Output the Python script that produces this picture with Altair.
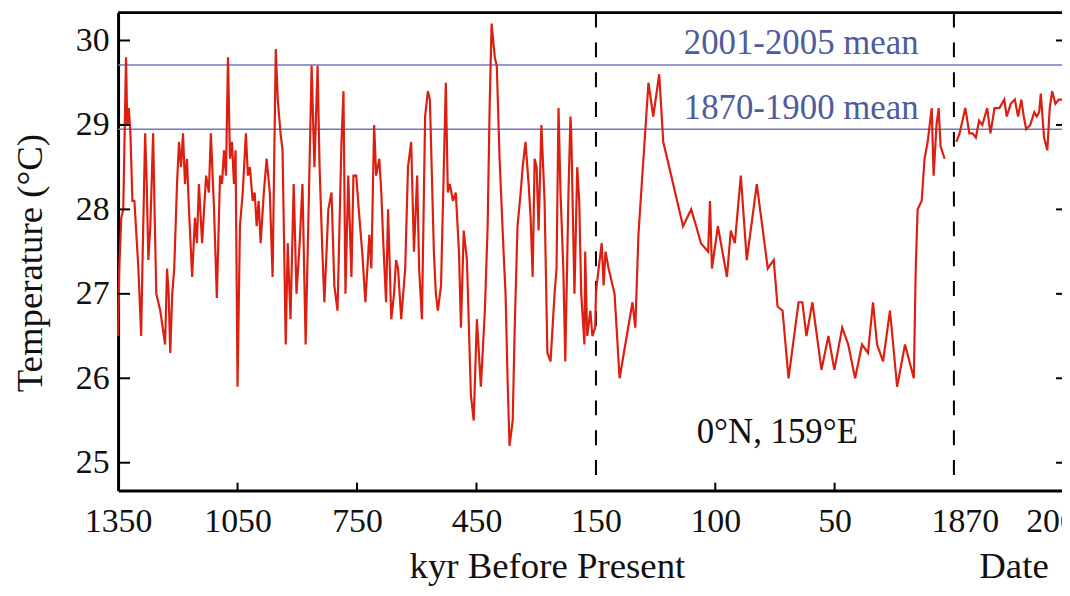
import altair as alt
import pandas as pd

# ---------------- data ----------------
# 1350-150 kyr panel
kyr_old = [1350, 1347, 1342, 1337, 1330, 1327, 1323, 1319, 1314, 1309,
           1304, 1299, 1292, 1289, 1282, 1278, 1274, 1269, 1262, 1258,
           1254, 1244, 1232, 1227, 1223, 1219, 1214, 1209, 1202, 1197,
           1192, 1187, 1182, 1177, 1172, 1164, 1157, 1152, 1147, 1139,
           1134, 1129, 1122, 1117, 1109, 1102, 1094, 1089, 1084, 1079,
           1074, 1069, 1064, 1059, 1055, 1050, 1044, 1037, 1029, 1024,
           1019, 1012, 1007, 1002, 997, 992, 984, 977, 969, 962,
           954, 949, 942, 937, 929, 924, 917, 909, 902, 894,
           887, 879, 872, 864, 857, 849, 844, 837, 832, 822,
           814, 807, 799, 789, 784, 779, 772, 764, 759, 752,
           744, 737, 729, 719, 714, 707, 702, 694, 689, 684,
           677, 672, 664, 657, 652, 647, 639, 629, 622, 614,
           607, 599, 594, 587, 579, 572, 567, 562, 557, 552,
           547, 539, 532, 527, 522, 517, 509, 502, 494, 489,
           482, 474, 469, 464, 457, 449, 439, 429, 422, 417,
           412, 404, 399, 392, 382, 377, 372, 367, 359, 354,
           347, 339, 334, 327, 319, 314, 309, 304, 299, 294,
           287, 279, 272, 264, 254, 249, 244, 239, 232, 227,
           219, 214, 212, 204, 197, 192, 187, 179, 177, 172,
           164, 159, 152, 150]
temp_old = [26.5, 27.3, 27.9, 28.0, 29.8, 29.0, 29.2, 28.9, 28.1, 28.1,
            27.7, 27.3, 26.5, 27.3, 28.9, 28.3, 27.4, 27.8, 28.9, 27.9,
            27.0, 26.8, 26.4, 27.3, 27.0, 26.3, 27.0, 27.3, 28.3, 28.8,
            28.5, 28.9, 28.3, 28.6, 28.0, 27.2, 27.9, 27.6, 28.3, 27.6,
            28.0, 28.4, 28.2, 28.9, 28.0, 26.95, 28.4, 28.3, 28.7, 28.4,
            29.8, 28.6, 28.8, 28.3, 28.7, 25.9, 27.8, 28.2, 28.9, 28.4,
            28.5, 28.1, 28.2, 27.8, 28.1, 27.6, 28.2, 28.6, 28.2, 27.2,
            29.9, 29.3, 28.9, 28.7, 26.4, 27.6, 26.7, 28.3, 27.0, 27.6,
            28.3, 26.4, 27.9, 29.7, 28.5, 29.7, 28.5, 27.5, 26.9, 28.0,
            28.2, 27.1, 26.8, 28.8, 29.4, 27.0, 28.4, 27.2, 28.4, 28.4,
            27.9, 27.5, 26.9, 27.7, 27.3, 29.0, 28.4, 28.6, 28.2, 27.6,
            26.9, 28.0, 26.7, 27.0, 27.4, 27.3, 26.7, 27.3, 28.5, 28.8,
            27.5, 28.4, 27.3, 26.7, 29.1, 29.4, 29.3, 28.4, 27.5, 27.0,
            26.8, 27.1, 28.5, 29.5, 28.2, 28.3, 28.1, 28.2, 27.5, 26.6,
            27.75, 27.4, 26.6, 25.8, 25.5, 26.7, 25.9, 26.8, 27.8, 29.2,
            30.2, 29.8, 29.7, 28.6, 27.5, 27.0, 26.0, 25.2, 25.5, 26.6,
            27.8, 28.2, 28.5, 28.8, 28.3, 27.9, 27.2, 28.6, 28.5, 27.75,
            29.0, 28.1, 26.3, 26.2, 27.0, 27.3, 29.2, 28.2, 27.3, 26.2,
            28.2, 29.1, 28.9, 27.0, 28.5, 28.1, 27.0, 26.4, 27.5, 26.5,
            26.8, 26.5, 26.6, 27.0]

# 150-0 kyr panel
kyr_mid = [149.7, 147.6, 146.8, 146.0, 144.7, 142.2, 140.1, 134.7, 133.5, 132.2,
           128.0, 126.0, 123.5, 121.8, 113.5, 110.1, 108.0, 106.0, 103.0, 102.2,
           101.4, 98.9, 95.1, 93.5, 91.8, 89.3, 86.8, 82.6, 78.0, 76.8,
           75.5, 73.9, 71.8, 69.3, 65.1, 63.5, 61.8, 59.3, 55.5, 52.6,
           50.1, 46.8, 44.3, 41.4, 38.5, 36.0, 33.9, 32.2, 29.7, 26.8,
           23.8, 20.5, 16.8, 16.0, 15.2, 13.5, 12.3, 11.0, 9.3, 8.5,
           7.3, 6.4, 5.6, 3.9]
temp_mid = [27.1, 27.6, 27.1, 27.5, 27.3, 27.0, 26.0, 26.9, 26.6, 27.7,
            29.5, 29.1, 29.6, 28.8, 27.8, 28.0, 27.8, 27.6, 27.5, 28.1,
            27.3, 27.8, 27.2, 27.75, 27.6, 28.4, 27.4, 28.3, 27.3, 27.35,
            27.4, 26.85, 26.8, 26.0, 26.9, 26.9, 26.5, 26.9, 26.1, 26.5,
            26.1, 26.6, 26.4, 26.0, 26.4, 26.3, 26.9, 26.4, 26.2, 26.8,
            25.9, 26.4, 26.0, 27.3, 28.0, 28.1, 28.6, 28.8, 29.2, 28.4,
            29.0, 29.2, 28.75, 28.6]

# instrumental panel (dates)
year_new = [1873, 1877, 1884, 1889, 1893, 1897, 1901, 1905, 1908, 1911,
            1915, 1920, 1926, 1932, 1935, 1940, 1945, 1949, 1953, 1956,
            1959, 1964, 1969, 1972, 1975, 1977, 1981, 1985, 1988, 1991,
            1995, 1999, 2003, 2006]
temp_new = [28.8, 28.9, 29.2, 28.9, 28.9, 28.85, 29.05, 29.0, 29.1, 29.2,
            28.9, 29.2, 29.2, 29.3, 29.1, 29.25, 29.3, 29.1, 29.3, 29.1,
            28.95, 29.0, 29.15, 29.1, 29.15, 29.37, 28.85, 28.7, 29.2, 29.4,
            29.25, 29.3, 29.3, 29.3]

mean_names = ["2001-2005 mean", "1870-1900 mean"]
mean_temps = [29.71, 28.95]
mean_label_temps = [29.97, 29.2]
mean_label_kyr = [64, 64]

site_names = ["0°N, 159°E"]
site_kyr = [74]
site_temps = [25.36]

date_title = ["Date"]
date_title_year = [1944]

# axis positions: kyr values; values <= 0 are dates (0 -> 1870, -130 -> 2000)
x_label_values = [1350, 1050, 750, 450, 150, 100, 50, 0, -130]
x_tick_marks = [1050, 750, 450, 100, 50]
y_tick_values = [25, 26, 27, 28, 29, 30]
panel_breaks = [150, 0]

# ---------------- chart ----------------
W = 949.3          # visible plot width (the frame continues past the page edge)
FRAME = 953.3      # position of the right-hand frame
H = 480.7
FONT = "Liberation Serif"
RED = "#dc1f10"
BLUE_LINE = "#7078bd"
BLUE_TEXT = "#4f5c9c"
TITLE_Y = 87.5

xscale = alt.Scale(domain=[1350, 150, 0, -138], range=[0, 480.6, 840.6, FRAME],
                   nice=False, zero=False)
yscale = alt.Scale(domain=[24.67, 30.33], nice=False, zero=False)

paleo = pd.DataFrame({"pos": kyr_old + kyr_mid, "temp": temp_old + temp_mid})
modern = pd.DataFrame({"year": year_new, "temp": temp_new})

x_axis = alt.Axis(
    values=x_label_values,
    labelExpr="datum.value <= 0 ? toString(1870 - datum.value) : toString(datum.value)",
    labelOffset={"condition": {"test": "datum.value == 0", "value": 11}, "value": 0},
    labelFlush=False, labelOverlap=False, labelBound=False,
    labelPadding=14, labelFontSize=34,
    ticks=False, grid=False, domainWidth=3, domainColor="black",
    title="kyr Before Present", titleX=431.3, titleY=TITLE_Y,
    titleAlign="center", titleBaseline="alphabetic", titleFontSize=37, titleAngle=0,
)
y_axis = alt.Axis(
    values=y_tick_values, format="d",
    labelFontSize=34, labelPadding=9,
    ticks=False, grid=False, domainWidth=3, domainColor="black",
    title="Temperature (°C)", titleX=-88, titleY=251.5, titleAngle=270,
    titleAlign="center", titleBaseline="middle", titleFontSize=37,
)


def X(field):
    return alt.X(field, scale=xscale, axis=x_axis)


def Y(field):
    return alt.Y(field, scale=yscale, axis=y_axis)


mean_rules = alt.Chart(pd.DataFrame({"t": mean_temps})).mark_rule(
    color=BLUE_LINE, strokeWidth=1.5
).encode(y=Y("t:Q"))

breaks = alt.Chart(pd.DataFrame({"p": panel_breaks})).mark_rule(
    color="black", strokeWidth=2, strokeDash=[15, 15]
).encode(x=X("p:Q"))

line_paleo = alt.Chart(paleo).transform_window(
    idx="row_number()"
).mark_line(color=RED, strokeWidth=2.2).encode(
    x=X("pos:Q"),
    y=Y("temp:Q"),
    order=alt.Order("idx:Q"),
)

line_modern = alt.Chart(modern).transform_calculate(
    pos="1870 - datum.year"
).mark_line(color=RED, strokeWidth=2.2).encode(
    x=X("pos:Q"),
    y=Y("temp:Q"),
    order=alt.Order("year:Q"),
)

mean_text = alt.Chart(pd.DataFrame({
    "name": mean_names, "k": mean_label_kyr, "t": mean_label_temps
})).mark_text(font=FONT, fontSize=35, color=BLUE_TEXT, align="center", baseline="middle").encode(
    x=X("k:Q"),
    y=Y("t:Q"),
    text="name:N",
)

site_text = alt.Chart(pd.DataFrame({
    "name": site_names, "k": site_kyr, "t": site_temps
})).mark_text(font=FONT, fontSize=35, color="#111111", align="center", baseline="middle").encode(
    x=X("k:Q"),
    y=Y("t:Q"),
    text="name:N",
)

date_text = alt.Chart(pd.DataFrame({
    "name": date_title, "year": date_title_year
})).transform_calculate(pos="1870 - datum.year").mark_text(
    font=FONT, fontSize=37, color="#111111", align="center", baseline="alphabetic"
).encode(
    x=X("pos:Q"),
    y=alt.value(H + TITLE_Y),
    text="name:N",
)

top_border = alt.Chart(pd.DataFrame({"a": [0]})).mark_rule(
    color="black", strokeWidth=3
).encode(x=alt.value(0), x2=alt.value(FRAME), y=alt.value(0))

y_ticks = alt.Chart(pd.DataFrame({"t": y_tick_values})).mark_rule(
    color="black", strokeWidth=2
).encode(y=Y("t:Q"), x=alt.value(0), x2=alt.value(12))

y_ticks_right = alt.Chart(pd.DataFrame({"t": y_tick_values})).mark_rule(
    color="black", strokeWidth=2
).encode(y=Y("t:Q"), x=alt.value(FRAME - 10), x2=alt.value(FRAME))

x_ticks = alt.Chart(pd.DataFrame({"p": x_tick_marks})).mark_rule(
    color="black", strokeWidth=2
).encode(x=X("p:Q"), y=alt.value(H), y2=alt.value(H - 8))

chart = alt.layer(
    mean_rules, breaks, line_paleo, line_modern, mean_text, site_text, date_text,
    top_border, y_ticks, y_ticks_right, x_ticks,
).properties(
    width=W, height=H,
    padding={"left": 110.7, "top": 3, "right": 0, "bottom": 97},
    autosize=alt.AutoSizeParams(type="none"),
    background="white",
).configure_view(stroke=None).configure_axis(
    labelFont=FONT, titleFont=FONT, labelColor="#111111", titleColor="#111111",
    titleFontWeight="normal",
)

chart.save("out.html", embed_options={"renderer": "svg", "actions": False})
